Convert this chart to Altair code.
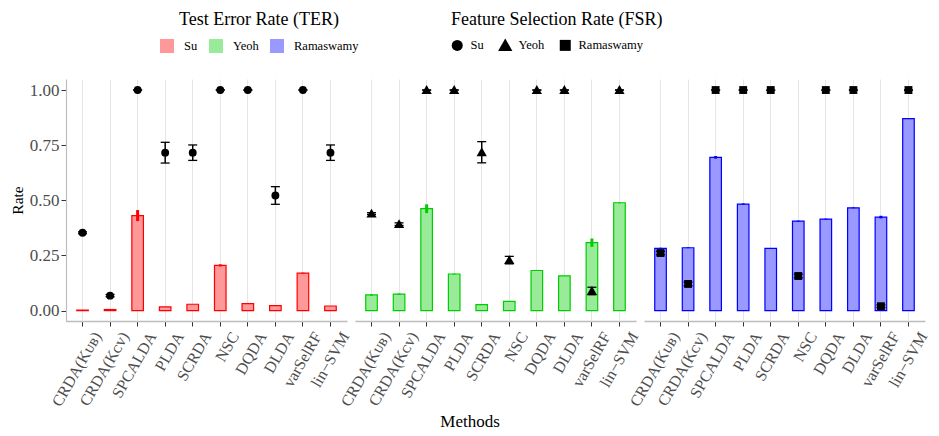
import altair as alt
import pandas as pd

methods = ["CRDA(Kᴜʙ)", "CRDA(Kᴄᴠ)", "SPCALDA", "PLDA", "SCRDA", "NSC",
           "DQDA", "DLDA", "varSelRF", "lin−SVM"]
datasets = ["Su", "Yeoh", "Ramaswamy"]

ter_su = [0.002, 0.005, 0.431, 0.017, 0.029, 0.205, 0.032, 0.023, 0.170, 0.021]
ter_su_sd = [0.0, 0.002, 0.025, 0.0, 0.0, 0.005, 0.0, 0.0, 0.002, 0.0]
fsr_su = [0.353, 0.068, 1.0, 0.716, 0.716, 1.0, 1.0, 0.522, 1.0, 0.716]
fsr_su_sd = [0.004, 0.005, 0.0, 0.047, 0.035, 0.0, 0.0, 0.040, 0.0, 0.035]

ter_yeoh = [0.071, 0.075, 0.462, 0.166, 0.027, 0.042, 0.182, 0.158, 0.308, 0.489]
ter_yeoh_sd = [0.003, 0.003, 0.020, 0.002, 0.0, 0.0, 0.0, 0.0, 0.019, 0.002]
fsr_yeoh = [0.440, 0.392, 1.0, 1.0, 0.718, 0.229, 1.0, 1.0, 0.089, 1.0]
fsr_yeoh_sd = [0.004, 0.006, 0.0, 0.0, 0.048, 0.017, 0.0, 0.0, 0.017, 0.0]

ter_ram = [0.282, 0.285, 0.695, 0.483, 0.282, 0.406, 0.415, 0.466, 0.424, 0.870]
ter_ram_sd = [0.003, 0.002, 0.006, 0.003, 0.002, 0.002, 0.002, 0.002, 0.006, 0.001]
fsr_ram = [0.261, 0.121, 1.0, 1.0, 1.0, 0.157, 1.0, 1.0, 0.020, 1.0]
fsr_ram_sd = [0.008, 0.008, 0.0, 0.0, 0.0, 0.008, 0.0, 0.0, 0.006, 0.0]

light_colors = ["#ff9999", "#99eb99", "#9999ff"]
strong_colors = ["#ff0000", "#00cd00", "#0000ff"]
shapes = ["circle", "M0,-1.25L1.3,1L-1.3,1Z", "square"]

rows = []
for d, ter, tsd, fsr, fsd in [
    ("Su", ter_su, ter_su_sd, fsr_su, fsr_su_sd),
    ("Yeoh", ter_yeoh, ter_yeoh_sd, fsr_yeoh, fsr_yeoh_sd),
    ("Ramaswamy", ter_ram, ter_ram_sd, fsr_ram, fsr_ram_sd),
]:
    for i, m in enumerate(methods):
        rows.append(dict(Dataset=d, Shape=d, Method=m,
                         TER=ter[i], TER_lo=ter[i] - tsd[i], TER_hi=ter[i] + tsd[i],
                         FSR=fsr[i], FSR_lo=fsr[i] - fsd[i], FSR_hi=fsr[i] + fsd[i]))
df = pd.DataFrame(rows)

FONT = "Liberation Serif"

xenc = alt.X("Method:N", sort=methods, title=None,
             scale=alt.Scale(paddingInner=0, paddingOuter=0.1),
             axis=alt.Axis(labelAngle=-60, labelAlign="right", labelBaseline="middle",
                           labelOffset=15, labelPadding=7,
                           grid=True, gridColor="#e6e6e6", gridWidth=1,
                           tickSize=5, tickColor="#333333",
                           domainColor="#bdbdbd", domainWidth=1.5,
                           labelFontSize=16, labelColor="#4d4d4d", labelFont=FONT))

yscale = alt.Scale(domain=[-0.047, 1.05], nice=False, zero=False)
yaxis = alt.Axis(values=[0, 0.25, 0.5, 0.75, 1.0], format=".2f", title="Rate", grid=False,
                 tickSize=5, tickColor="#333333", domainColor="#bdbdbd", domainWidth=1.2,
                 labelFontSize=17, labelColor="#4d4d4d", labelFont=FONT, labelPadding=2,
                 titleFontSize=15.5, titleFont=FONT, titleFontWeight="normal", titlePadding=4)


def Y(field):
    return alt.Y(f"{field}:Q", scale=yscale, axis=yaxis, title="Rate")


fill_legend = alt.Legend(title="Test Error Rate (TER)", orient="none", legendX=94, legendY=-68,
                         direction="horizontal", symbolType="square", symbolSize=196,
                         symbolStrokeWidth=0, labelOffset=10, columnPadding=11,
                         titleAnchor="middle", titlePadding=10, titleLimit=400)
shape_legend = alt.Legend(title="Feature Selection Rate (FSR)", orient="none", legendX=385, legendY=-68,
                          direction="horizontal", symbolSize=121, symbolFillColor="black",
                          symbolStrokeColor="black", symbolStrokeWidth=0, labelOffset=7,
                          columnPadding=14, titleAnchor="start", titlePadding=10, titleLimit=400)

base = alt.Chart()

bars = base.mark_bar(strokeWidth=1.2, width=alt.RelativeBandSize(0.42)).encode(
    x=xenc, y=Y("TER"), y2=alt.datum(0),
    fill=alt.Fill("Dataset:N", scale=alt.Scale(domain=datasets, range=light_colors), legend=fill_legend),
    stroke=alt.Stroke("Dataset:N", scale=alt.Scale(domain=datasets, range=strong_colors), legend=None),
)

ter_err = base.mark_rule(strokeWidth=3).encode(
    x=xenc, y=Y("TER_lo"), y2="TER_hi",
    stroke=alt.Stroke("Dataset:N", scale=alt.Scale(domain=datasets, range=strong_colors), legend=None),
)

fsr_rule = base.mark_rule(strokeWidth=1.5, color="black").encode(
    x=xenc, y=Y("FSR_lo"), y2="FSR_hi")
cap_lo = base.mark_tick(size=9, thickness=1.3, color="black", opacity=1).encode(x=xenc, y=Y("FSR_lo"))
cap_hi = base.mark_tick(size=9, thickness=1.3, color="black", opacity=1).encode(x=xenc, y=Y("FSR_hi"))

points = base.mark_point(filled=True, color="black", opacity=1, size=62).encode(
    x=xenc, y=Y("FSR"),
    shape=alt.Shape("Shape:N", sort=datasets, scale=alt.Scale(range=shapes), legend=shape_legend),
)

layered = alt.layer(bars, ter_err, fsr_rule, cap_lo, cap_hi, points, data=df).properties(
    width=281, height=242)

chart = layered.facet(
    column=alt.Column("Dataset:N", sort=datasets, header=alt.Header(labels=False, title=None)),
    spacing=8,
).properties(
    title=alt.TitleParams("Methods", orient="bottom", anchor="middle", fontSize=17,
                          font=FONT, fontWeight="normal", offset=5),
    padding={"left": 2, "top": 3, "right": 0, "bottom": 0},
).configure_view(stroke=None).configure_legend(
    titleFont=FONT, titleFontSize=18, titleFontWeight="normal", titleColor="black",
    labelFont=FONT, labelFontSize=12.5, labelColor="black",
).configure_text(font=FONT)

chart.save("out.html", embed_options={"renderer": "svg", "actions": False})
